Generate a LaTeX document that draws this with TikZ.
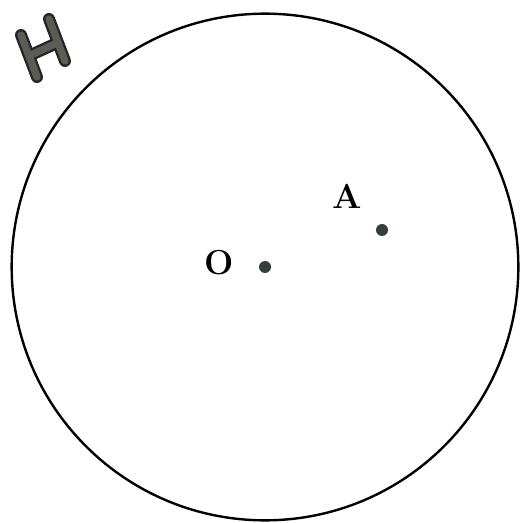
\documentclass[tikz,border=0pt]{standalone}
\definecolor{dotc}{HTML}{34403A}
\definecolor{hgray}{HTML}{5A5C55}
\begin{document}
\begin{tikzpicture}[x=0.75pt,y=-0.75pt,
  dotstyle/.style={circle,fill=dotc,inner sep=0pt,minimum size=9pt},
  lbl/.style={font=\fontsize{26}{30}\selectfont\bfseries,inner sep=0pt},
  hout/.style={line width=9pt,line cap=round,draw=black!85},
  hin/.style={line width=5.5pt,line cap=round,draw=hgray}]
\useasboundingbox (0,0) rectangle (519,523);
\fill[white] (0,0) rectangle (519,523);
\node[circle,draw=black,line width=1.8pt,minimum size=380pt,inner sep=0pt] (circ) at (265,267) {};
\node[dotstyle] (O) at (265,267) {};
\node[dotstyle] (A) at (382,230) {};
\node[lbl] (Olab) at (219,263) {O};
\node[lbl] (Alab) at (347,196) {A};
% handwritten H
\coordinate (h1a) at (21,35);
\coordinate (h1b) at (37,77);
\coordinate (h2a) at (49,19);
\coordinate (h2b) at (65,61);
\coordinate (hca) at (33,54);
\coordinate (hcb) at (57,43);
\draw[hout] (h1a) -- (h1b);
\draw[hout] (h2a) -- (h2b);
\draw[hout] (hca) -- (hcb);
\draw[hin] (h1a) -- (h1b);
\draw[hin] (h2a) -- (h2b);
\draw[hin] (hca) -- (hcb);
\end{tikzpicture}
\end{document}
